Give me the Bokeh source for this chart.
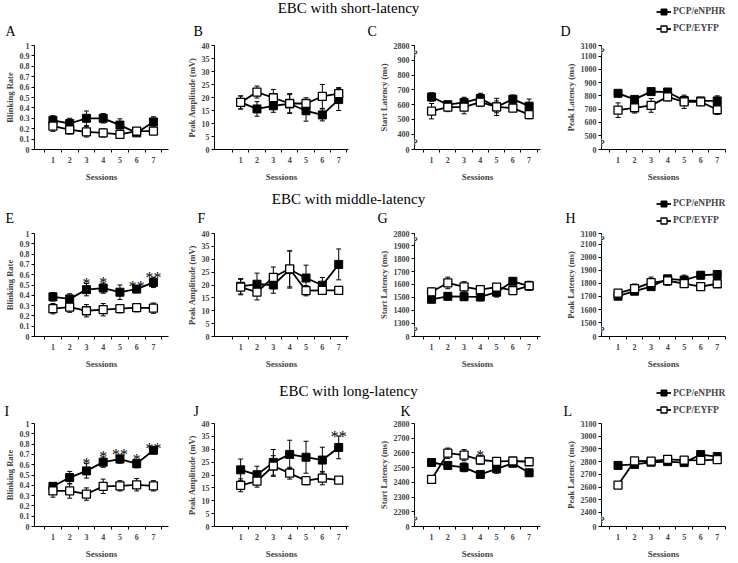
from bokeh.plotting import figure
from bokeh.models import (Range1d, FixedTicker, ColumnDataSource, Whisker, TeeHead,
                          Label, Legend, LegendItem)
from bokeh.layouts import column, row
from bokeh.embed import file_html
from bokeh.resources import INLINE
from bokeh.core.properties import value

# ---------------- data ----------------
sessions = [1, 2, 3, 4, 5, 6, 7]
groups = ["PCP/eNPHR", "PCP/EYFP"]
row_titles = ["EBC with short-latency", "EBC with middle-latency", "EBC with long-latency"]
letters = ["A", "B", "C", "D", "E", "F", "G", "H", "I", "J", "K", "L"]
x_label = "Sessions"
y_labels = ["Blinking Rate", "Peak Amplitude (mV)", "Start Latency (ms)", "Peak Latency (ms)"]

# short latency
A_nphr = [0.28, 0.25, 0.30, 0.30, 0.235, 0.16, 0.265]
A_nphr_err = [0.045, 0.05, 0.07, 0.045, 0.06, 0.02, 0.05]
A_eyfp = [0.225, 0.19, 0.17, 0.16, 0.145, 0.177, 0.177]
A_eyfp_err = [0.05, 0.04, 0.05, 0.04, 0.02, 0.02, 0.03]

B_nphr = [18.1, 15.6, 16.8, 17.6, 14.9, 13.3, 19.2]
B_nphr_err = [2.5, 2.8, 2.5, 3.5, 4.0, 2.3, 4.2]
B_eyfp = [18.1, 22.1, 19.9, 17.7, 17.7, 20.4, 21.5]
B_eyfp_err = [2.5, 2.3, 3.2, 3.8, 2.2, 4.6, 2.3]

C_nphr = [652, 600, 615, 642, 585, 637, 590]
C_nphr_err = [28, 20, 35, 35, 40, 28, 48]
C_eyfp = [556, 583, 583, 617, 585, 577, 533]
C_eyfp_err = [52, 30, 45, 30, 58, 22, 28]

D_nphr = [819, 773, 832, 829, 765, 762, 762]
D_nphr_err = [15, 22, 15, 15, 30, 15, 38]
D_eyfp = [692, 710, 728, 792, 755, 755, 695]
D_eyfp_err = [55, 40, 52, 30, 50, 25, 35]

# middle latency
E_nphr = [0.385, 0.365, 0.455, 0.47, 0.43, 0.46, 0.525]
E_nphr_err = [0.04, 0.05, 0.06, 0.05, 0.07, 0.03, 0.05]
E_eyfp = [0.27, 0.285, 0.25, 0.26, 0.27, 0.28, 0.275]
E_eyfp_err = [0.05, 0.05, 0.06, 0.06, 0.04, 0.04, 0.05]
E_stars = ["", "", "*", "*", "", "**", "**"]

F_nphr = [19.5, 20.3, 20.0, 26.0, 22.7, 19.9, 28.0]
F_nphr_err = [3.0, 4.3, 3.2, 7.2, 5.0, 3.0, 6.0]
F_eyfp = [19.2, 17.2, 23.0, 26.3, 17.8, 17.9, 17.9]
F_eyfp_err = [3.0, 3.0, 4.0, 7.0, 2.0, 1.5, 1.5]

G_nphr = [1485, 1508, 1505, 1503, 1540, 1625, 1588]
G_nphr_err = [18, 20, 30, 30, 38, 25, 25]
G_eyfp = [1543, 1612, 1582, 1560, 1580, 1553, 1590]
G_eyfp_err = [30, 45, 40, 15, 20, 18, 35]

H_nphr = [1702, 1740, 1775, 1835, 1825, 1862, 1868]
H_nphr_err = [15, 15, 20, 15, 38, 28, 28]
H_eyfp = [1725, 1760, 1806, 1820, 1798, 1775, 1797]
H_eyfp_err = [15, 35, 42, 35, 20, 25, 20]

# long latency
I_nphr = [0.39, 0.475, 0.54, 0.625, 0.655, 0.61, 0.74]
I_nphr_err = [0.03, 0.06, 0.07, 0.05, 0.04, 0.04, 0.02]
I_eyfp = [0.345, 0.345, 0.315, 0.39, 0.395, 0.405, 0.395]
I_eyfp_err = [0.06, 0.07, 0.06, 0.07, 0.05, 0.06, 0.05]
I_stars = ["", "", "*", "*", "**", "*", "**"]

J_nphr = [22.0, 20.1, 24.9, 28.0, 26.9, 25.8, 30.7]
J_nphr_err = [4.2, 3.3, 5.0, 5.5, 6.2, 5.0, 4.4]
J_eyfp = [16.0, 17.6, 23.5, 20.7, 17.8, 18.8, 18.0]
J_eyfp_err = [2.5, 2.3, 4.0, 2.3, 1.6, 2.6, 1.0]
J_stars = ["", "", "", "", "", "", "**"]

K_nphr = [2535, 2515, 2502, 2454, 2492, 2530, 2465]
K_nphr_err = [22, 25, 30, 20, 30, 20, 22]
K_eyfp = [2420, 2598, 2585, 2552, 2542, 2545, 2540]
K_eyfp_err = [22, 35, 38, 28, 15, 15, 18]
K_stars = ["", "", "", "*", "", "", ""]

L_nphr = [2770, 2778, 2795, 2800, 2792, 2855, 2840]
L_nphr_err = [15, 12, 12, 12, 12, 15, 12]
L_eyfp = [2615, 2805, 2803, 2818, 2812, 2810, 2815]
L_eyfp_err = [25, 10, 10, 10, 10, 12, 12]

no_stars = ["", "", "", "", "", "", ""]

# ---------------- axis ticks (broken axes: first tick shows "0", top tick may show the far value) ----------------
rate_ticks = [0, 0.1, 0.2, 0.3, 0.4, 0.5, 0.6, 0.7, 0.8, 0.9, 1]
rate_labels = ["0", "0.1", "0.2", "0.3", "0.4", "0.5", "0.6", "0.7", "0.8", "0.9", "1"]
amp_ticks = [0, 5, 10, 15, 20, 25, 30, 35, 40]
amp_labels = ["0", "5", "10", "15", "20", "25", "30", "35", "40"]

C_ticks = [297, 400, 500, 600, 700, 800, 900, 1000]
C_labels = ["0", "400", "500", "600", "700", "800", "900", "2800"]
D_ticks = [395, 500, 600, 700, 800, 900, 1000, 1100, 1180]
D_labels = ["0", "500", "600", "700", "800", "900", "1000", "1100", "3100"]
G_ticks = [1196, 1300, 1400, 1500, 1600, 1700, 1800, 1900, 1996]
G_labels = ["0", "1300", "1400", "1500", "1600", "1700", "1800", "1900", "2800"]
H_ticks = [1394, 1500, 1600, 1700, 1800, 1900, 2000, 2100, 2181]
H_labels = ["0", "1500", "1600", "1700", "1800", "1900", "2000", "2100", "3100"]
K_ticks = [2100, 2200, 2300, 2400, 2500, 2600, 2700, 2800]
K_labels = ["0", "2200", "2300", "2400", "2500", "2600", "2700", "2800"]
L_ticks = [2289, 2400, 2500, 2600, 2700, 2800, 2900, 3000, 3100]
L_labels = ["0", "2400", "2500", "2600", "2700", "2800", "2900", "3000", "3100"]

panels = [
    dict(ylab=0, ticks=rate_ticks, labels=rate_labels, n=A_nphr, ne=A_nphr_err, e=A_eyfp, ee=A_eyfp_err, st=no_stars, brk=None),
    dict(ylab=1, ticks=amp_ticks, labels=amp_labels, n=B_nphr, ne=B_nphr_err, e=B_eyfp, ee=B_eyfp_err, st=no_stars, brk=None),
    dict(ylab=2, ticks=C_ticks, labels=C_labels, n=C_nphr, ne=C_nphr_err, e=C_eyfp, ee=C_eyfp_err, st=no_stars, brk="both"),
    dict(ylab=3, ticks=D_ticks, labels=D_labels, n=D_nphr, ne=D_nphr_err, e=D_eyfp, ee=D_eyfp_err, st=no_stars, brk="both"),
    dict(ylab=0, ticks=rate_ticks, labels=rate_labels, n=E_nphr, ne=E_nphr_err, e=E_eyfp, ee=E_eyfp_err, st=E_stars, brk=None),
    dict(ylab=1, ticks=amp_ticks, labels=amp_labels, n=F_nphr, ne=F_nphr_err, e=F_eyfp, ee=F_eyfp_err, st=no_stars, brk=None),
    dict(ylab=2, ticks=G_ticks, labels=G_labels, n=G_nphr, ne=G_nphr_err, e=G_eyfp, ee=G_eyfp_err, st=no_stars, brk="both"),
    dict(ylab=3, ticks=H_ticks, labels=H_labels, n=H_nphr, ne=H_nphr_err, e=H_eyfp, ee=H_eyfp_err, st=no_stars, brk="both"),
    dict(ylab=0, ticks=rate_ticks, labels=rate_labels, n=I_nphr, ne=I_nphr_err, e=I_eyfp, ee=I_eyfp_err, st=I_stars, brk=None),
    dict(ylab=1, ticks=amp_ticks, labels=amp_labels, n=J_nphr, ne=J_nphr_err, e=J_eyfp, ee=J_eyfp_err, st=J_stars, brk=None),
    dict(ylab=2, ticks=K_ticks, labels=K_labels, n=K_nphr, ne=K_nphr_err, e=K_eyfp, ee=K_eyfp_err, st=K_stars, brk="bottom"),
    dict(ylab=3, ticks=L_ticks, labels=L_labels, n=L_nphr, ne=L_nphr_err, e=L_eyfp, ee=L_eyfp_err, st=no_stars, brk="bottom"),
]

# ---------------- layout ----------------
SERIF = "Liberation Serif"
TOTAL_W = 736
# columns: (fig width, border left, border right, x range)
cols = [(183, 34, 15, (-0.1, 7.9)),
        (187, 27, 22, (-0.6, 7.6)),
        (184, 44, 14, (-0.05, 7.7)),
        (182, 47, 11, (0.0, 7.5))]
# rows: (header h, panel h, border top, frame h, title y, letter y, legend vy, letter xs)
rows_cfg = [(38, 149, 7, 104, 7, 31, 1.5, [5, 193, 367, 560]),
            (38, 153, 8, 103, 11, 31, -3.5, [5, 197, 377, 565]),
            (40, 143, 5, 103, 12, 33, 0, [4, 193, 400, 563])]


def header(ri):
    hh, _, _, _, ty, ly, lvy, lxs = rows_cfg[ri]
    h = figure(width=TOTAL_W, height=hh, x_range=Range1d(0, TOTAL_W), y_range=Range1d(hh, 0),
               output_backend="svg", toolbar_location=None, x_axis_location=None,
               y_axis_location=None, min_border=0, min_border_left=0, min_border_right=0,
               min_border_top=0, min_border_bottom=0)
    h.grid.visible = False
    h.outline_line_color = None
    h.add_layout(Label(x=348, y=ty, text=row_titles[ri], text_align="center",
                       text_baseline="middle", text_font=SERIF, text_font_size="15px",
                       text_color="black"))
    for ci in range(4):
        h.add_layout(Label(x=lxs[ci], y=ly, text=letters[ri * 4 + ci], text_align="left",
                           text_baseline="middle", text_font=SERIF, text_font_size="14px",
                           text_color="black"))
    nan = float("nan")
    l1 = h.line(x=[nan], y=[nan], line_color="black", line_width=1.8)
    s1 = h.scatter(x=[nan], y=[nan], marker="square", fill_color="black", line_color="black", line_width=1)
    l2 = h.line(x=[nan], y=[nan], line_color="black", line_width=1.8)
    s2 = h.scatter(x=[nan], y=[nan], marker="square", fill_color="white", line_color="black", line_width=1.3)
    leg = Legend(items=[LegendItem(label=groups[0], renderers=[l1, s1]),
                        LegendItem(label=groups[1], renderers=[l2, s2])],
                 location=(656, lvy), orientation="vertical", glyph_width=15, glyph_height=17,
                 label_height=17, spacing=-3, padding=0, margin=0, label_standoff=2,
                 border_line_alpha=0, background_fill_alpha=0,
                 label_text_font=SERIF, label_text_font_style="bold",
                 label_text_font_size="9.5px", label_text_baseline="middle")
    h.add_layout(leg)
    return h


def panel(ri, ci):
    cfg = panels[ri * 4 + ci]
    W, bl, br, xr = cols[ci]
    _, hp, bt, fh, _, _, _, _ = rows_cfg[ri]
    bb = hp - bt - fh
    ticks = cfg["ticks"]
    p = figure(width=W, height=hp, x_range=Range1d(*xr), y_range=Range1d(ticks[0], ticks[-1]),
               output_backend="svg", toolbar_location=None,
               min_border_left=bl, min_border_right=br, min_border_top=bt, min_border_bottom=bb)
    p.grid.visible = False
    p.outline_line_color = None
    p.background_fill_color = "white"

    # y axis
    ya = p.yaxis[0]
    ya.ticker = FixedTicker(ticks=ticks)
    ya.major_label_overrides = {t: l for t, l in zip(ticks, cfg["labels"])}
    ya.axis_label = y_labels[cfg["ylab"]]
    ya.axis_label_text_font = SERIF
    ya.axis_label_text_font_style = "bold"
    ya.axis_label_text_font_size = "8.5px"
    ya.axis_label_standoff = 2
    ya.major_label_text_font = SERIF
    ya.major_label_text_font_style = "bold"
    ya.major_label_text_font_size = "8px"
    ya.major_label_standoff = 2
    ya.major_tick_out = 3
    ya.major_tick_in = 0
    ya.minor_tick_line_color = None
    ya.axis_line_width = 1

    # x axis
    xa = p.xaxis[0]
    xa.ticker = FixedTicker(ticks=sessions, minor_ticks=[s - 0.5 for s in sessions] + [sessions[-1] + 0.5])
    xa.axis_label = x_label
    xa.axis_label_text_font = SERIF
    xa.axis_label_text_font_style = "bold"
    xa.axis_label_text_font_size = "9px"
    xa.axis_label_standoff = 6
    xa.major_label_text_font = SERIF
    xa.major_label_text_font_style = "bold"
    xa.major_label_text_font_size = "8px"
    xa.major_tick_out = 0
    xa.major_tick_in = 0
    xa.major_label_standoff = 4
    xa.minor_tick_out = 3
    xa.minor_tick_in = 0

    n, ne, e, ee = cfg["n"], cfg["ne"], cfg["e"], cfg["ee"]
    src_n = ColumnDataSource(dict(x=sessions, y=n,
                                  lo=[a - b for a, b in zip(n, ne)], hi=[a + b for a, b in zip(n, ne)]))
    src_e = ColumnDataSource(dict(x=sessions, y=e,
                                  lo=[a - b for a, b in zip(e, ee)], hi=[a + b for a, b in zip(e, ee)]))
    for src in (src_n, src_e):
        p.add_layout(Whisker(source=src, base="x", upper="hi", lower="lo", line_width=1,
                             line_color="black",
                             upper_head=TeeHead(size=5, line_width=1, line_color="black"),
                             lower_head=TeeHead(size=5, line_width=1, line_color="black")))
    p.line("x", "y", source=src_n, line_color="black", line_width=1.8)
    p.scatter("x", "y", source=src_n, marker="square", size=8, fill_color="black",
              line_color="black", line_width=1)
    p.line("x", "y", source=src_e, line_color="black", line_width=1.8)
    p.scatter("x", "y", source=src_e, marker="square", size=8, fill_color="white",
              line_color="black", line_width=1.3)

    # significance stars
    sx, sy, stx = [], [], []
    for i, s in enumerate(cfg["st"]):
        if s:
            sx.append(sessions[i])
            sy.append(max(n[i] + ne[i], e[i] + ee[i]))
            stx.append(s)
    if sx:
        p.text(x=sx, y=sy, text=stx, text_align="center", text_baseline="alphabetic",
               text_font=value(SERIF), text_font_size="16px", text_color="black", y_offset=0)

    # axis breaks
    if cfg["brk"]:
        ys = [(ticks[0] + ticks[1]) / 2]
        if cfg["brk"] == "both":
            ys.append((ticks[-2] + ticks[-1]) / 2)
        for yb in ys:
            p.add_layout(Label(x=xr[0], y=yb, text="≈", angle=1.1, text_align="center",
                               text_baseline="middle", text_font=SERIF, text_font_size="12px",
                               text_font_style="bold", text_color="black",
                               background_fill_color="white"))
    return p


blocks = []
for ri in range(3):
    blocks.append(header(ri))
    blocks.append(row([panel(ri, ci) for ci in range(4)]))

layout = column(blocks)
open("out.html", "w").write(file_html(layout, INLINE))
